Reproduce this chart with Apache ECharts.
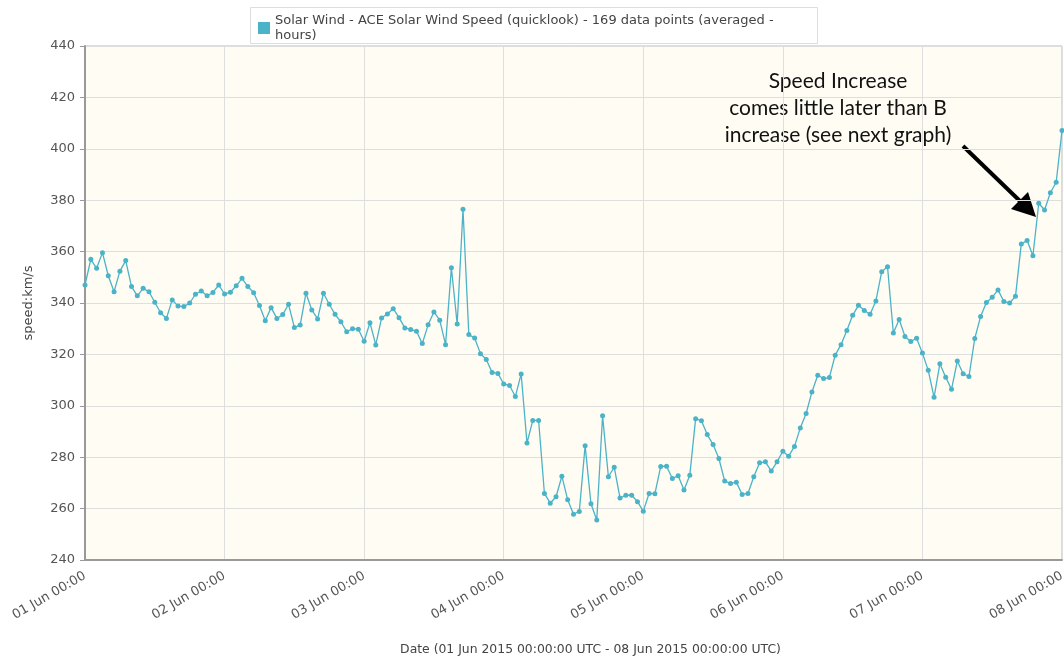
<!DOCTYPE html>
<html><head><meta charset="utf-8">
<script src="https://cdn.jsdelivr.net/npm/echarts@6/dist/echarts.min.js"></script>
<style>html,body{margin:0;padding:0;background:#fff}#c{width:1064px;height:662px}</style>
</head><body><div id="c"></div>
<script>
// hours since 01 Jun 2015 00:00 UTC
const tickLabels = ['01 Jun 00:00','02 Jun 00:00','03 Jun 00:00','04 Jun 00:00','05 Jun 00:00','06 Jun 00:00','07 Jun 00:00','08 Jun 00:00'];
const seriesName = 'Solar Wind - ACE Solar Wind Speed (quicklook) - 169 data points (averaged - hours)';
const day1 = [347,357,353.5,359.6,350.6,344.4,352.4,356.5,346.4,342.8,345.7,344.4,340.3,336.2,334,341.2,338.8,338.6,340,343.4,344.7,342.8,344.1,347];
const day2 = [343.5,344.2,346.7,349.6,346.4,344,339,333.1,338.2,334,335.5,339.5,330.5,331.4,343.8,337.3,333.8,343.8,339.5,335.6,332.7,328.8,330,329.8];
const day3 = [325.1,332.3,323.7,334.2,335.7,337.8,334.3,330.3,329.7,329,324.2,331.5,336.5,333.3,323.8,353.7,331.8,376.5,327.7,326.4,320.3,318,313,312.6];
const day4 = [308.5,307.9,303.6,312.4,285.5,294.3,294.3,265.9,262.1,264.6,272.6,263.4,257.8,258.9,284.5,261.9,255.6,296.1,272.4,276.1,264.1,265.2,265.2,262.7];
const day5 = [259,265.9,265.8,276.4,276.5,271.7,272.8,267.2,273,295,294.2,288.8,284.9,279.5,270.7,269.8,270.3,265.5,265.9,272.4,277.8,278.2,274.6,278.2];
const day6 = [282.3,280.4,284.2,291.4,297,305.4,311.9,310.6,311,319.7,323.8,329.3,335.2,339.1,337.1,335.6,340.8,352.2,354.1,328.3,333.6,327,325,326.3];
const day7 = [320.5,313.8,303.3,316.4,311.1,306.4,317.4,312.5,311.4,326.2,334.7,340.2,342.2,345.1,340.6,340,342.6,363,364.3,358.4,378.8,376.2,382.9,387];
const day8 = [407.1];
const speeds = [].concat(day1,day2,day3,day4,day5,day6,day7,day8);
const data = speeds.map((v,i)=>[i,v]);

const chart = echarts.init(document.getElementById('c'));
const fontAxis = 'DejaVu Sans, sans-serif';
chart.setOption({
  animation:false,
  backgroundColor:'#fff',
  grid:{left:85,right:2,top:46,bottom:102,outerBoundsMode:'none',containLabel:false,show:true,backgroundColor:'#fffcf3',borderColor:'#bbb',borderWidth:1},
  legend:{
    left:253,top:8,itemWidth:12,itemHeight:12,itemGap:6,icon:'rect',
    textStyle:{fontFamily:fontAxis,fontSize:13,color:'#444',lineHeight:15},
    formatter:()=> 'Solar Wind - ACE Solar Wind Speed (quicklook) - 169 data points (averaged -\nhours)'
  },
  graphic:[
    {type:'rect',left:248,top:5,shape:{width:567,height:36},style:{fill:'none',stroke:'#ddd',lineWidth:1},z:-1},
    {type:'text',x:838,y:68,style:{text:'Speed Increase\ncomes little later than B\nincrease (see next graph)',fill:'#111',font:'21px Lato, sans-serif',align:'center',lineHeight:27}},
    {type:'line',shape:{x1:963,y1:146,x2:1022,y2:203},style:{stroke:'#000',lineWidth:4}},
    {type:'polygon',shape:{points:[[1036,217],[1011,209],[1028,192]]},style:{fill:'#000'}}
  ],
  xAxis:{
    type:'value',min:0,max:168,interval:24,
    name:'Date (01 Jun 2015 00:00:00 UTC - 08 Jun 2015 00:00:00 UTC)',
    nameLocation:'middle',nameGap:84,
    nameTextStyle:{fontFamily:fontAxis,fontSize:12.4,color:'#444',padding:[0,0,0,34]},
    axisLine:{lineStyle:{color:'#999',width:2}},
    axisTick:{show:false},
    axisLabel:{rotate:30,fontFamily:fontAxis,fontSize:13,color:'#555',margin:15,
      formatter:v=>tickLabels[Math.round(v/24)]},
    splitLine:{show:true,lineStyle:{color:'#dedede',width:1}}
  },
  yAxis:{
    type:'value',min:240,max:440,interval:20,
    name:'speed:km/s',nameLocation:'middle',nameGap:50,nameRotate:90,
    nameTextStyle:{fontFamily:fontAxis,fontSize:13,color:'#444'},
    axisLine:{show:true,lineStyle:{color:'#999',width:2}},
    axisTick:{show:true,length:5,lineStyle:{color:'#999'}},
    axisLabel:{fontFamily:fontAxis,fontSize:13,color:'#555',margin:10},
    splitLine:{show:true,lineStyle:{color:'#dedede',width:1}}
  },
  series:[{
    name:seriesName,type:'line',data:data,
    symbol:'circle',symbolSize:5,showSymbol:true,
    itemStyle:{color:'#4bb3c8'},
    lineStyle:{color:'#4bb3c8',width:1.3}
  }]
});
</script></body></html>
